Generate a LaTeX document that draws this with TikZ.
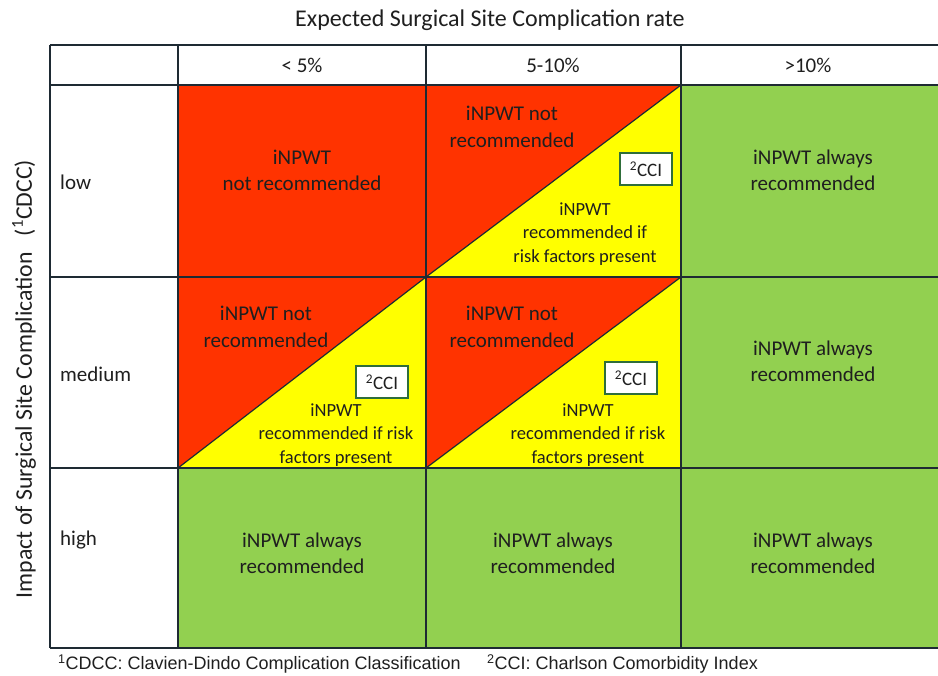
\documentclass[tikz,border=0pt]{standalone}
\usepackage{fontspec}
\setmainfont{Carlito}
\newfontfamily\notefont{Liberation Sans}
\usepackage{tikz}
\usetikzlibrary{positioning, calc}
\definecolor{riskred}{HTML}{FF3300}
\definecolor{riskyellow}{HTML}{FFFF00}
\definecolor{riskgreen}{HTML}{92D050}
\definecolor{gridline}{HTML}{1E2A33}
\definecolor{boxgreen}{HTML}{2F6E3A}
\definecolor{celltext}{HTML}{1F1F1F}

\begin{document}
\begin{tikzpicture}[x=1pt, y=-1pt, font=\fontsize{21}{26}\selectfont,
    celltxt/.style={align=center, text=celltext, inner sep=0pt},
    notxt/.style={celltxt, font=\fontsize{21}{27}\selectfont},
    yestxt/.style={celltxt, font=\fontsize{18.5}{23.5}\selectfont},
    rowlbl/.style={anchor=west, text=celltext, inner sep=0pt},
    ccibox/.style={draw=boxgreen, line width=1.5pt, fill=white, text=celltext,
                   font=\fontsize{19}{22}\selectfont,
                   minimum width=52pt, minimum height=32pt, inner sep=0pt},
    notetxt/.style={anchor=west, inner sep=0pt, text=celltext, font=\notefont\fontsize{18}{20}\selectfont},
    gridln/.style={draw=gridline, line width=1.2pt}]
  \useasboundingbox[fill=white] (0,0) rectangle (938,676);

  % Farbflächen
  \fill[riskred] (178,85) rectangle (426,277);
  \fill[riskgreen] (681,85) rectangle (938,468);
  \fill[riskgreen] (178,468) rectangle (938,648);

  % geteilte Zellen (rot oben links, gelb unten rechts)
  \foreach \xa/\xb/\ya/\yb in {426/681/85/277, 178/426/277/468, 426/681/277/468} {
    \fill[riskred] (\xa,\ya) -- (\xb,\ya) -- (\xa,\yb) -- cycle;
    \fill[riskyellow] (\xb,\ya) -- (\xb,\yb) -- (\xa,\yb) -- cycle;
    \draw[gridln] (\xa,\yb) -- (\xb,\ya);
  }

  % Gitter
  \foreach \y in {45, 85, 277, 468, 648}
    \draw[gridln] (50,\y) -- (938,\y);
  \foreach \x in {50, 178, 426, 681}
    \draw[gridln] (\x,45) -- (\x,648);

  % Titel und Kopfzeile
  \node[text=celltext, font=\fontsize{24}{26}\selectfont] (title) at (490,20) {Expected Surgical Site Complication rate};
  \node[celltxt] (col1) at (302,65) {< 5\%};
  \node[celltxt] (col2) at (553,65) {5-10\%};
  \node[celltxt] (col3) at (808,65) {>10\%};

  % Zeilen
  \node[rowlbl] (row1) at (60,182) {low};
  \node[rowlbl] (row2) at (60,374) {medium};
  \node[rowlbl] (row3) at (60,540) {high};
  \node[text=celltext, font=\fontsize{23.8}{26}\selectfont, rotate=90] (impact) at (24,379)
    {Impact of Surgical Site Complication\hspace{16pt}(\textsuperscript{1}CDCC)};

  % Zeile low
  \node[celltxt] (low-a) at (302,170) {iNPWT\\not recommended};
  \node[notxt] (low-b-no) at (512,127) {iNPWT not\\recommended};
  \node[ccibox] (low-b-cci) at (646,169) {\textsuperscript{2}CCI};
  \node[yestxt] (low-b-yes) at (585,234) {iNPWT\\recommended if\\risk factors present};
  \node[celltxt] (low-c) at (813,170) {iNPWT always\\recommended};

  % Zeile medium
  \node[notxt] (med-a-no) at (266,327) {iNPWT not\\recommended};
  \node[ccibox] (med-a-cci) at (382,382) {\textsuperscript{2}CCI};
  \node[yestxt] (med-a-yes) at (336,435) {iNPWT\\recommended if risk\\factors present};
  \node[notxt] (med-b-no) at (512,327) {iNPWT not\\recommended};
  \node[ccibox] (med-b-cci) at (631,378) {\textsuperscript{2}CCI};
  \node[yestxt] (med-b-yes) at (588,435) {iNPWT\\recommended if risk\\factors present};
  \node[celltxt] (med-c) at (813,361) {iNPWT always\\recommended};

  % Zeile high
  \foreach \x/\n in {302/a, 553/b, 813/c}
    \node[celltxt] (high-\n) at (\x,553) {iNPWT always\\recommended};

  % Fussnoten
  \node[notetxt] (note1) at (58,664) {\textsuperscript{1}CDCC: Clavien-Dindo Complication Classification};
  \node[notetxt] (note2) at (487,664) {\textsuperscript{2}CCI: Charlson Comorbidity Index};
\end{tikzpicture}
\end{document}
